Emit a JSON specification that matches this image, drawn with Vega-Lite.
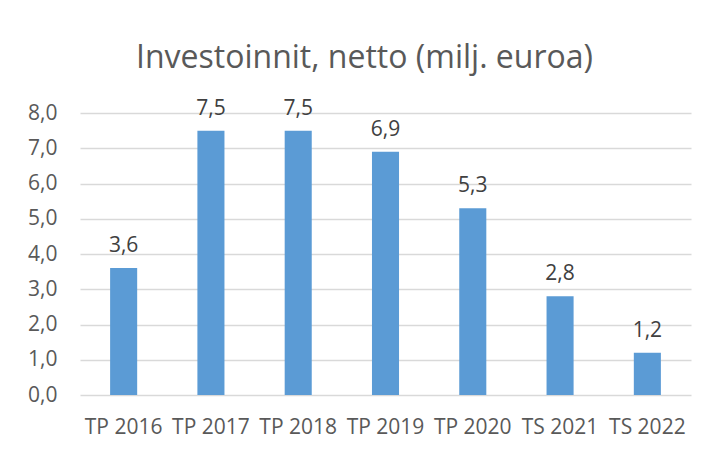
{
  "$schema": "https://vega.github.io/schema/vega-lite/v6.json",
  "autosize": "none",
  "width": 611,
  "height": 282,
  "padding": {"left": 80, "top": 113, "right": 21, "bottom": 55},
  "background": "white",
  "config": {
    "locale": {"number": {"decimal": ",", "thousands": " ", "grouping": [3], "currency": ["", " €"]}},
    "view": {"stroke": null},
    "font": "Open Sans"
  },
  "title": {
    "text": "Investoinnit, netto (milj. euroa)",
    "fontSize": 32,
    "font": "Open Sans",
    "fontWeight": "normal",
    "color": "#595959",
    "anchor": "middle",
    "dx": -21,
    "offset": 23
  },
  "data": {
    "values": [
      {"vuosi": "TP 2016", "arvo": 3.6},
      {"vuosi": "TP 2017", "arvo": 7.5},
      {"vuosi": "TP 2018", "arvo": 7.5},
      {"vuosi": "TP 2019", "arvo": 6.9},
      {"vuosi": "TP 2020", "arvo": 5.3},
      {"vuosi": "TS 2021", "arvo": 2.8},
      {"vuosi": "TS 2022", "arvo": 1.2}
    ]
  },
  "encoding": {
    "x": {
      "field": "vuosi",
      "type": "nominal",
      "sort": null,
      "scale": {"paddingInner": 0.69, "paddingOuter": 0.345},
      "axis": {
        "title": null,
        "labelAngle": 0,
        "labelFontSize": 21,
        "labelColor": "#595959",
        "labelPadding": 21,
        "ticks": false,
        "domain": false
      }
    },
    "y": {
      "field": "arvo",
      "type": "quantitative",
      "scale": {"domain": [0, 8], "nice": false},
      "axis": {
        "title": null,
        "values": [0, 1, 2, 3, 4, 5, 6, 7, 8],
        "format": ".1f",
        "labelFontSize": 21,
        "labelColor": "#595959",
        "labelPadding": 23,
        "ticks": false,
        "domain": false,
        "grid": true,
        "gridColor": "#D9D9D9",
        "gridWidth": 1.5
      }
    }
  },
  "layer": [
    {"mark": {"type": "bar", "color": "#5B9BD5"}},
    {
      "mark": {"type": "text", "fontSize": 21, "color": "#404040", "baseline": "alphabetic", "dy": -16},
      "encoding": {"text": {"field": "arvo", "type": "quantitative", "format": ".1f"}}
    }
  ]
}
